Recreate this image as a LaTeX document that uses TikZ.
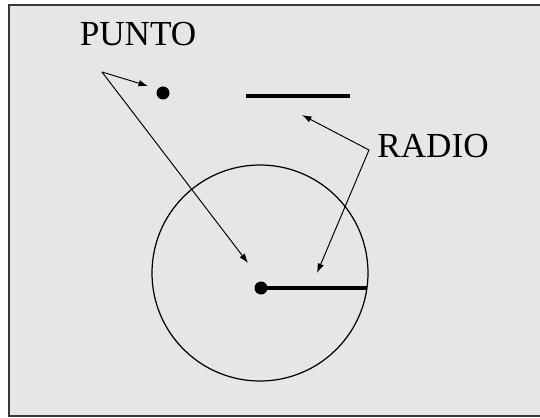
\documentclass[tikz,border=0pt]{standalone}
\usepackage{fontspec}
\setmainfont{Liberation Serif}
\usetikzlibrary{arrows.meta}
\definecolor{paper}{RGB}{230,230,230}
\definecolor{frame}{RGB}{55,55,55}
\tikzset{
  >={Latex[length=1.9mm,width=1.3mm]},
  label text/.style={font=\fontsize{20}{24}\selectfont,inner sep=0pt,anchor=base},
  dot/.style={circle,fill=black,inner sep=0pt,minimum size=2.6mm},
  pointer/.style={->,line width=0.55pt},
  radius line/.style={line width=2.6pt},
}
\begin{document}
\begin{tikzpicture}[x=0.02cm,y=-0.02cm]
        \useasboundingbox (0,0) rectangle (540,418);
        % background and frame
        \fill[paper] (9,5) rectangle (545,416);
        \draw[frame,line width=1.2pt] (545,5) -- (9,5) -- (9,416) -- (545,416);
        % figures
        \draw[line width=0.7pt] (260,273) circle (108);
        \node[dot] (p1) at (163,93) {};
        \node[dot] (p2) at (261,288) {};
        \coordinate (r1a) at (246,96);
        \coordinate (r1b) at (350,96);
        \coordinate (r2b) at (367,288);
        \draw[radius line] (r1a) -- (r1b);
        \draw[radius line] (p2.center) -- (r2b);
        % labels
        \node[label text] (punto) at (138,46) {PUNTO};
        \node[label text] (radio) at (433,158) {RADIO};
        \coordinate (pa) at (102,72);
        \coordinate (ra) at (369,150);
        \coordinate (pt1) at (148,86);
        \coordinate (pt2) at (248,263);
        \coordinate (rt1) at (302,115);
        \coordinate (rt2) at (317,273);
        \draw[pointer] (pa) -- (pt1);
        \draw[pointer] (pa) -- (pt2);
        \draw[pointer] (ra) -- (rt1);
        \draw[pointer] (ra) -- (rt2);
      \end{tikzpicture}
\end{document}
